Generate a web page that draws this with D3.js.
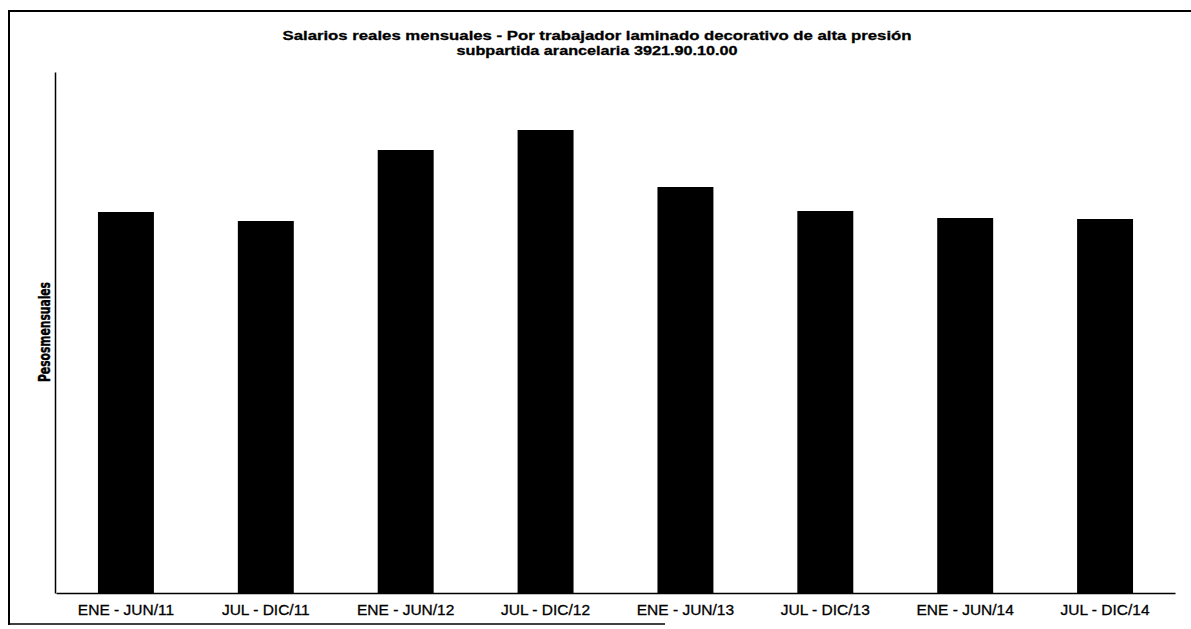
<!DOCTYPE html>
<html>
<head>
<meta charset="utf-8">
<script src="https://cdn.jsdelivr.net/npm/d3@7"></script>
<style>
  html, body { margin: 0; padding: 0; background: #fff; }
  svg { display: block; }
</style>
</head>
<body>
<div id="chart"></div>
<script>
// Periods on the x axis
const periods = ['ENE - JUN/11', 'JUL - DIC/11', 'ENE - JUN/12', 'JUL - DIC/12',
                 'ENE - JUN/13', 'JUL - DIC/13', 'ENE - JUN/14', 'JUL - DIC/14'];
const salarios = [381, 372, 443, 463, 406, 382, 375, 374];
const yMax = 521;

const titleLines = ['Salarios reales mensuales - Por trabajador laminado decorativo de alta presión',
                    'subpartida arancelaria 3921.90.10.00'];
const titleWidths = [629, 281];
const yLabel = 'Pesosmensuales';

const width = 1191, height = 629;
const margin = { top: 72, right: 16, bottom: 36, left: 56 };

const svg = d3.select('#chart').append('svg')
    .attr('width', width)
    .attr('height', height);

// Frame of the scanned page (top, left, partial bottom)
const frame = svg.append('g').attr('stroke', '#000').attr('fill', 'none');
frame.append('line').attr('x1', 8).attr('x2', width).attr('y1', 11).attr('y2', 11).attr('stroke-width', 2);
frame.append('line').attr('x1', 9).attr('x2', 9).attr('y1', 11).attr('y2', 625).attr('stroke-width', 2);
frame.append('line').attr('x1', 8).attr('x2', 665).attr('y1', 624).attr('y2', 624).attr('stroke-width', 1.5);

const x = d3.scaleBand()
    .domain(periods)
    .range([margin.left, width - margin.right])
    .paddingInner(0.6)
    .paddingOuter(0.3);

const y = d3.scaleLinear()
    .domain([0, yMax])
    .range([height - margin.bottom, margin.top]);

// Bars
svg.append('g')
  .selectAll('rect')
  .data(salarios)
  .join('rect')
    .attr('x', (d, i) => x(periods[i]))
    .attr('y', d => y(d))
    .attr('width', x.bandwidth())
    .attr('height', d => y(0) - y(d))
    .attr('fill', '#000');

// X axis
svg.append('g')
    .attr('transform', `translate(0,${y(0)})`)
    .call(d3.axisBottom(x).tickSize(0).tickPadding(11))
    .call(g => g.select('.domain').attr('stroke', '#000').attr('stroke-width', 1.5))
    .call(g => g.selectAll('.tick text')
        .attr('fill', '#000')
        .attr('stroke', '#000')
        .attr('stroke-width', 0.3)
        .style('font-family', 'Arial, "Liberation Sans", sans-serif')
        .style('font-size', '15.5px'));

// Y axis (line only, no ticks)
svg.append('g')
    .attr('transform', `translate(${margin.left - 1},0)`)
    .call(d3.axisLeft(y).tickValues([]).tickSizeOuter(0))
    .call(g => g.select('.domain').attr('stroke', '#000').attr('stroke-width', 1.5));

// Y label
svg.append('text')
    .attr('transform', 'translate(50,332) rotate(-90)')
    .attr('text-anchor', 'middle')
    .attr('textLength', 100)
    .attr('lengthAdjust', 'spacingAndGlyphs')
    .attr('stroke', '#000')
    .attr('stroke-width', 0.4)
    .style('font-family', '"Liberation Sans Narrow", "DejaVu Sans Condensed", Arial, sans-serif')
    .style('font-weight', 'bold')
    .style('font-size', '15px')
    .text(yLabel);

// Title
svg.append('g')
  .selectAll('text')
  .data(titleLines)
  .join('text')
    .attr('x', 597)
    .attr('y', (d, i) => 40 + i * 15)
    .attr('text-anchor', 'middle')
    .attr('textLength', (d, i) => titleWidths[i])
    .attr('lengthAdjust', 'spacingAndGlyphs')
    .attr('stroke', '#000')
    .attr('stroke-width', 0.3)
    .style('font-family', 'Arial, "Liberation Sans", sans-serif')
    .style('font-weight', 'bold')
    .style('font-size', '13px')
    .text(d => d);
</script>
</body>
</html>
